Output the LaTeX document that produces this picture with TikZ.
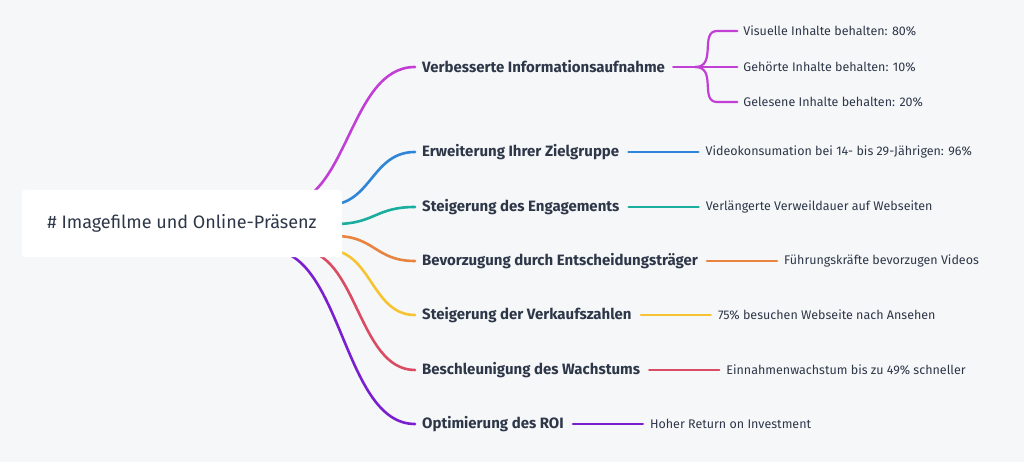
\documentclass[tikz,border=0pt]{standalone}
\usepackage{fontspec}
\setmainfont{Fira Sans}
\usetikzlibrary{calc}
\begin{document}
\begin{tikzpicture}[x=1pt,y=-1pt,
  br/.style={line width=2.6pt,line cap=round},
  lab/.style={anchor=west,inner sep=0pt,text=tx,font=\fontsize{15}{17}\selectfont\bfseries},
  leaf/.style={anchor=west,inner sep=0pt,text=tx,font=\fontsize{12.5}{14}\selectfont}]
\definecolor{bg}{HTML}{F6F7F9}\definecolor{tx}{HTML}{2D3748}
\definecolor{c1}{HTML}{C23FD6}\definecolor{c2}{HTML}{2F86D9}\definecolor{c3}{HTML}{1AAE9F}
\definecolor{c4}{HTML}{E8843F}\definecolor{c5}{HTML}{F6C433}\definecolor{c6}{HTML}{D94C63}
\definecolor{c7}{HTML}{7A1FD0}
\fill[bg] (0,0) rectangle (1024,462);
\useasboundingbox (0,0) rectangle (1024,462);
% labels
\node[lab] (b1) at (422,67) {Verbesserte Informationsaufnahme};
\node[lab] (b2) at (422,152) {Erweiterung Ihrer Zielgruppe};
\node[lab] (b3) at (422,207) {Steigerung des Engagements};
\node[lab] (b4) at (422,261) {Bevorzugung durch Entscheidungsträger};
\node[lab] (b5) at (422,315) {Steigerung der Verkaufszahlen};
\node[lab] (b6) at (422,370) {Beschleunigung des Wachstums};
\node[lab] (b7) at (422,424) {Optimierung des ROI};
% curves from root
\coordinate (r1) at (282,205);\coordinate (r2) at (328,205);\coordinate (r3) at (335,224);
\coordinate (r4) at (335,236);\coordinate (r5) at (328,250);\coordinate (r6) at (300,250);
\coordinate (r7) at (270,250);
\foreach \i/\c in {1/c1,2/c2,3/c3,4/c4,5/c5,6/c6,7/c7}{
  \coordinate (e\i) at ([xshift=-7pt]b\i.west);
  \coordinate (m\i) at ($(r\i)!0.5!(e\i)$);
  \draw[br,\c] (r\i) .. controls (m\i |- r\i) and (m\i |- e\i) .. (e\i);
}
% root
\node[fill=white,rounded corners=3pt,minimum width=320pt,minimum height=67pt,text=tx,font=\fontsize{18}{20}\selectfont] (root) at (182,223.5) {\# Imagefilme und Online-Präsenz};
% leaves branch 1
\coordinate (f1) at ([xshift=8pt]b1.east);
\coordinate (j1) at ([xshift=22pt]f1);
\node[leaf] (l11) at ([xshift=78pt,yshift=36pt]b1.east) {Visuelle Inhalte behalten: 80\%};
\node[leaf] (l12) at ([xshift=78pt]b1.east) {Gehörte Inhalte behalten: 10\%};
\node[leaf] (l13) at ([xshift=78pt,yshift=-35pt]b1.east) {Gelesene Inhalte behalten: 20\%};
\draw[c1,line width=2.4pt,line cap=round] (f1) -- (j1);
\draw[c1,line width=2.2pt,line cap=round] (j1) .. controls ([xshift=22pt]j1) and ([xshift=-44pt]l11.west) .. ([xshift=-26pt]l11.west) -- ([xshift=-6pt]l11.west);
\draw[c1,line width=2.2pt,line cap=round] (j1) .. controls ([xshift=22pt]j1) and ([xshift=-44pt]l13.west) .. ([xshift=-26pt]l13.west) -- ([xshift=-6pt]l13.west);
\draw[c1,line width=2.2pt,line cap=round] (j1) -- ([xshift=-6pt]l12.west);
% other leaves
\foreach \i/\t in {2/{Videokonsumation bei 14- bis 29-Jährigen: 96\%},3/{Verlängerte Verweildauer auf Webseiten},4/{Führungskräfte bevorzugen Videos},5/{75\% besuchen Webseite nach Ansehen},6/{Einnahmenwachstum bis zu 49\% schneller},7/{Hoher Return on Investment}}{
  \node[leaf] (l\i) at ([xshift=86pt]b\i.east) {\t};
}
\foreach \i/\c in {2/c2,3/c3,4/c4,5/c5,6/c6,7/c7}{
  \draw[\c,line width=2.4pt,line cap=round] ([xshift=9pt]b\i.east) -- ([xshift=-7pt]l\i.west);
}
\end{tikzpicture}
\end{document}
